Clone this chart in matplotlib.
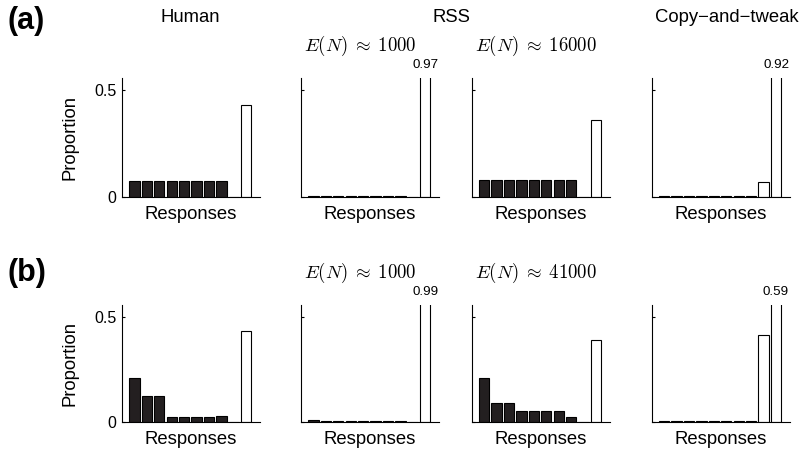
import matplotlib
matplotlib.use("Agg")
import matplotlib.pyplot as plt
import matplotlib.transforms as mtransforms

plt.rcParams['font.family'] = ['Liberation Sans', 'DejaVu Sans']
plt.rcParams['mathtext.fontset'] = 'cm'

# ---------------- data ----------------
responses = [1, 2, 3, 4, 5, 6, 7, 8, 9, 10]
bar_colors = ['#231f20'] * 8 + ['white', 'white']

human_a = [0.075, 0.075, 0.075, 0.075, 0.075, 0.075, 0.075, 0.075, 0.0, 0.43]
rss1000_a = [0.002, 0.002, 0.002, 0.002, 0.002, 0.002, 0.002, 0.002, 0.0, 0.97]
rss16000_a = [0.08, 0.08, 0.08, 0.08, 0.08, 0.08, 0.08, 0.08, 0.0, 0.36]
copy_a = [0.001, 0.001, 0.001, 0.001, 0.001, 0.001, 0.001, 0.001, 0.07, 0.92]

human_b = [0.21, 0.12, 0.12, 0.022, 0.022, 0.022, 0.022, 0.028, 0.0, 0.43]
rss1000_b = [0.006, 0.001, 0.001, 0.001, 0.001, 0.001, 0.001, 0.001, 0.0, 0.99]
rss41000_b = [0.21, 0.09, 0.09, 0.05, 0.05, 0.05, 0.05, 0.02, 0.0, 0.39]
copy_b = [0.001, 0.001, 0.001, 0.001, 0.001, 0.001, 0.001, 0.001, 0.41, 0.59]

rows = [
    [human_a, rss1000_a, rss16000_a, copy_a],
    [human_b, rss1000_b, rss41000_b, copy_b],
]
row_labels = ['(a)', '(b)']
en_labels = [
    [None, r'$E(N)\;\approx\;1000$', r'$E(N)\;\approx\;16000$', None],
    [None, r'$E(N)\;\approx\;1000$', r'$E(N)\;\approx\;41000$', None],
]
column_titles = ['Human', 'RSS', 'Copy\u2212and\u2212tweak']

YMAX = 0.555

# ---------------- layout (pixels) ----------------
W, H = 802, 453
fig = plt.figure(figsize=(W / 100, H / 100), dpi=100)

col_left = [122, 301, 471.7, 651.7]
col_width = 138
row_top = [78, 305]
row_bottom = [196.7, 421.7]

def fx(px):
    return px / W

def fy(py):
    return 1 - py / H

for r in range(2):
    for c in range(4):
        ax = fig.add_axes([fx(col_left[c]), fy(row_bottom[r]),
                           fx(col_width), (row_bottom[r] - row_top[r]) / H])
        vals = rows[r][c]
        ax.bar(responses, vals, width=0.82, color=bar_colors,
               edgecolor='black', linewidth=0.8)
        ax.set_xlim(0, 11.1)
        ax.set_ylim(0, YMAX)
        for s in ['top', 'right']:
            ax.spines[s].set_visible(False)
        ax.spines['left'].set_linewidth(0.8)
        ax.spines['bottom'].set_linewidth(0.8)
        ax.set_xticks([])
        ax.set_yticks([0, 0.5])
        ax.tick_params(axis='y', direction='in', length=2, width=0.8,
                       labelsize=11.5, pad=4)
        if c == 0:
            ax.set_yticklabels(['0', '0.5'])
            ax.set_ylabel('Proportion', fontsize=13.3, labelpad=11)
        else:
            ax.set_yticklabels([])
        ax.set_xlabel('Responses', fontsize=13.3, labelpad=7)
        # value labels for bars exceeding axis
        for xv, v in zip(responses, vals):
            if v > YMAX:
                ax.annotate(f'{v:.2f}', xy=(xv, YMAX), xytext=(0, 13),
                            textcoords='offset pixels',
                            ha='center', va='center', fontsize=9.6,
                            annotation_clip=False)
        if en_labels[r][c]:
            trans = ax.transAxes + mtransforms.ScaledTranslation(0, 20 / 100, fig.dpi_scale_trans)
            ax.text(0.025, 1.0, en_labels[r][c], transform=trans,
                    ha='left', va='bottom', fontsize=13.5)

# column titles
fig.text(fx(190), fy(18), column_titles[0], ha='center', va='center', fontsize=13.3)
fig.text(fx(451), fy(18), column_titles[1], ha='center', va='center', fontsize=13.3)
fig.text(fx(727), fy(18), column_titles[2], ha='center', va='center', fontsize=13.3)

# row labels
fig.text(fx(26), fy(21), row_labels[0], ha='center', va='center', fontsize=22, fontweight='bold')
fig.text(fx(27), fy(273), row_labels[1], ha='center', va='center', fontsize=22, fontweight='bold')

fig.savefig('out.png', dpi=100, facecolor='white')
